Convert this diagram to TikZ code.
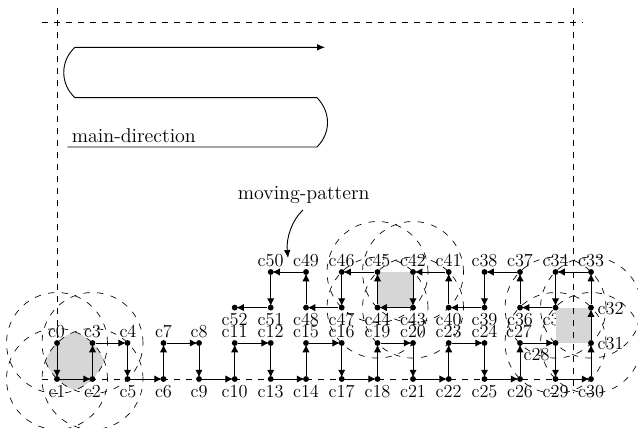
\documentclass[tikz,border=0pt]{standalone}
\usetikzlibrary{arrows.meta}
\tikzset{
  dotn/.style={circle,fill=black,inner sep=0pt,minimum size=3.5pt},
  lab/.style={inner sep=0pt,font=\fontsize{11}{13}\selectfont,anchor=base},
  edge/.style={draw=black,line width=0.6pt,-{Latex[length=4.6pt,width=4.4pt]},shorten >=-1pt},
  dsh/.style={draw=black,line width=0.42pt,dash pattern=on 3.8pt off 3.4pt},
  dshc/.style={draw=black,line width=0.4pt,dash pattern=on 3.8pt off 4.4pt},
  thinl/.style={draw=black,line width=0.55pt}
}
\begin{document}
\begin{tikzpicture}[x=0.6pt,y=-0.6pt]
\clip (0,0) rectangle (638,428);
% gray intersection of four circles, left
\begin{scope}
\clip (57,343) circle[radius=30.3pt];
\clip (92.5,343) circle[radius=30.3pt];
\clip (57,379) circle[radius=30.3pt];
\fill[black!16] (92.5,379) circle[radius=30.3pt];
\end{scope}
% labels
\foreach \n/\x/\y in {c0/56.5/337,c3/92.5/337,c4/128/337,c7/163.5/337,c8/199/337,c11/234.7/337,c12/270.7/337,c15/306/337,c16/341.7/337,c19/377.5/337,c20/413/337,c23/448.7/337,c24/484.5/337,c27/519/337,
 c1/57/397,c2/92.5/397,c5/128/397,c6/163.5/397,c9/199/397,c10/234.7/397,c13/270.7/397,c14/306/397,c17/341.7/397,c18/377.5/397,c21/413/397,c22/448.7/397,c25/484.5/397,c26/520/397,c29/555.5/397,c30/591/397,
 c52/234.7/325,c51/270.7/325,c48/306/325,c47/341.7/325,c44/377.5/325,c43/413/325,c40/448.7/325,c39/484.5/325,c36/520/325,c35/555.5/325,
 c50/270.7/266,c49/306/266,c46/341.7/266,c45/377.5/266,c42/413/266,c41/448.7/266,c38/484.5/266,c37/520/266,c34/555.5/266,c33/591/266,
 c32/610.7/314,c31/610.7/349,c28/536.7/360}
  \node[lab] (l\n) at (\x,\y) {\n};
% gray squares
\fill[black!16] (377.5,272) rectangle (413,307.6);
\fill[black!16] (555.5,307.6) rectangle (591,343);
% points
\foreach \n/\x/\y in {c0/57/343,c1/57/379,c2/92.5/379,c3/92.5/343,c4/127.5/343,c5/127.5/379,c6/163.5/379,c7/163.5/343,c8/199/343,c9/199/379,c10/234.7/379,c11/234.7/343,c12/270.7/343,c13/270.7/379,c14/306/379,c15/306/343,c16/341.7/343,c17/341.7/379,c18/377.5/379,c19/377.5/343,c20/413/343,c21/413/379,c22/448.7/379,c23/448.7/343,c24/484.5/343,c25/484.5/379,c26/520/379,c27/520/343,c28/555.5/343,c29/555.5/379,c30/591/379,c31/591/343,c32/591/307.6,c33/591/272,c34/555.5/272,c35/555.5/307.6,c36/520/307.6,c37/520/272,c38/484.5/272,c39/484.5/307.6,c40/448.7/307.6,c41/448.7/272,c42/413/272,c43/413/307.6,c44/377.5/307.6,c45/377.5/272,c46/341.7/272,c47/341.7/307.6,c48/306/307.6,c49/306/272,c50/270.7/272,c51/270.7/307.6,c52/234.7/307.6}
  \node[dotn] (\n) at (\x,\y) {};
% path
\foreach \a/\b in {c0/c1,c1/c2,c2/c3,c3/c4,c4/c5,c5/c6,c6/c7,c7/c8,c8/c9,c9/c10,c10/c11,c11/c12,c12/c13,c13/c14,c14/c15,c15/c16,c16/c17,c17/c18,c18/c19,c19/c20,c20/c21,c21/c22,c22/c23,c23/c24,c24/c25,c25/c26,c26/c27,c27/c28,c28/c29,c29/c30,c30/c31,c31/c32,c32/c33,c33/c34,c34/c35,c35/c36,c36/c37,c37/c38,c38/c39,c39/c40,c40/c41,c41/c42,c42/c43,c43/c44,c44/c45,c45/c46,c46/c47,c47/c48,c48/c49,c49/c50,c50/c51,c51/c52}
  \draw[edge] (\a) -- (\b);
% dashed circles
\foreach \c in {c0,c1,c2,c3,c42,c43,c44,c45,c28,c31,c32,c35}
  \draw[dshc] (\c) circle[radius=30.3pt];
% frame
\coordinate (ftl) at (42,22); \coordinate (ftr) at (583,22);
\coordinate (fbl) at (42,379); \coordinate (fbr) at (591,379);
\coordinate (fv1) at (57,8); \coordinate (fv2) at (57,379);
\coordinate (fv3) at (573.5,8); \coordinate (fv4) at (573.5,393);
\draw[dsh] (ftl) -- (ftr);
\draw[dsh] (fbl) -- (fbr);
\draw[dsh] (fv1) -- (fv2);
\draw[dsh] (fv3) -- (fv4);
% main direction
\coordinate (s0) at (67.3,147);
\coordinate (s1) at (317,147);
\coordinate (s2) at (317,97.7);
\coordinate (s3) at (75,97.7);
\coordinate (s4) at (75,47.3);
\coordinate (s5) at (325,47.3);
\draw[thinl,-{Latex[length=4.8pt,width=4pt]}] (s0) -- (s1)
  .. controls (331,133) and (331,112) .. (s2) -- (s3)
  .. controls (60,84) and (60,61) .. (s4) -- (s5);
\node[lab,anchor=base west,font=\fontsize{12}{14}\selectfont] (md) at (71.5,143) {main-direction};
\node[lab,anchor=base west,font=\fontsize{12}{14}\selectfont] (mp) at (237.5,200) {moving-pattern};
\coordinate (mpe) at (288,258);
\draw[thinl,-{Latex[length=4.8pt,width=4pt]}] (303,210) .. controls (292,220) and (286,238) .. (mpe);
\end{tikzpicture}
\end{document}
